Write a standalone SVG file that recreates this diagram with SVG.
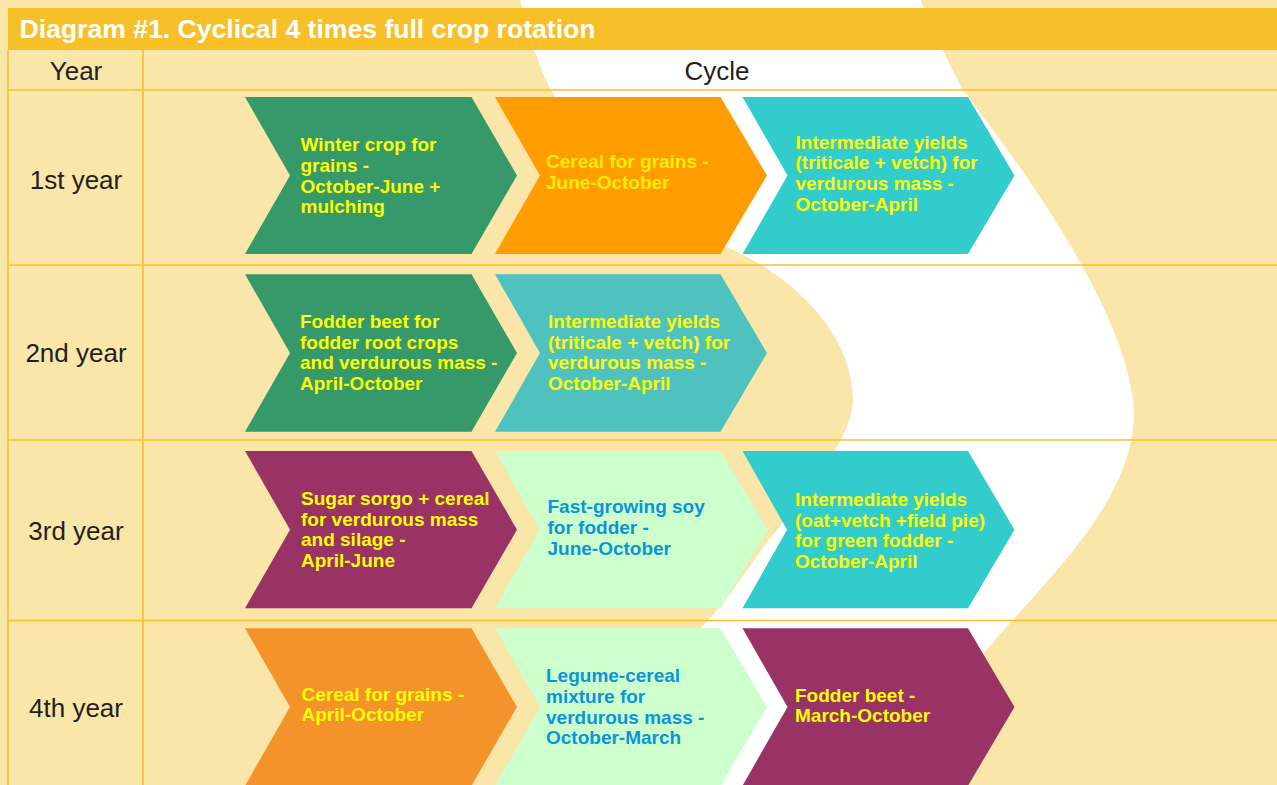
<svg xmlns="http://www.w3.org/2000/svg" width="1277" height="785" viewBox="0 0 1277 785">
<style>
.bg{fill:#F9E6A8}
.wave{fill:#FFFFFF}
.hdr{fill:#F7C029}
.grid{stroke:#F7C029;stroke-width:1.6;fill:none}
.title{font-family:"Liberation Sans",Arial,sans-serif;font-weight:bold;font-size:26px;fill:#FFFFFF}
.lbl{font-family:"Liberation Sans",Arial,sans-serif;font-size:26px;fill:#231F20;text-anchor:middle}
.t{font-family:"Liberation Sans",Arial,sans-serif;font-weight:bold;font-size:19px}
.y{fill:#FFFF00}
.yo{fill:#FFEE00}
.b{fill:#0A95D8}
.green{fill:#35996A}
.orange{fill:#FF9C00}
.orange2{fill:#F5932B}
.cyan{fill:#33CCCC}
.teal{fill:#4FC2BF}
.purple{fill:#993366}
.lgreen{fill:#CCFFCC}
</style>
<rect class="bg" x="0" y="0" width="1277" height="785"/>
<path class="wave" d="M520,-2 C527,30 538,65 551,90 C590,165 660,222 727,247 C790,275 852,330 853,400 C853,440 800,500 765,545 C750,565 725,605 697,632 C670,670 640,730 625,787 L890,787 C925,730 955,690 985,652 C1040,585 1128,510 1134,420 C1136,330 1040,190 963,90 C948,62 930,25 920,-2 Z"/>
<g id="header">
<rect class="hdr" x="8" y="8" width="1269" height="42"/>
<text class="title" x="19.5" y="38" textLength="576" lengthAdjust="spacingAndGlyphs">Diagram #1. Cyclical 4 times full crop rotation</text>
</g>
<g id="grid">
<line class="grid" x1="8" y1="50" x2="8" y2="785"/>
<line class="grid" x1="143" y1="50" x2="143" y2="785"/>
<line class="grid" x1="8" y1="90" x2="1277" y2="90"/>
<line class="grid" x1="8" y1="265" x2="1277" y2="265"/>
<line class="grid" x1="8" y1="440" x2="1277" y2="440"/>
<line class="grid" x1="8" y1="620.5" x2="1277" y2="620.5"/>
</g>
<g id="labels">
<text class="lbl" x="76" y="80">Year</text>
<text class="lbl" x="717" y="80">Cycle</text>
<text id="year1" class="lbl" x="76" y="189">1st year</text>
<text id="year2" class="lbl" x="76" y="362">2nd year</text>
<text id="year3" class="lbl" x="76" y="540">3rd year</text>
<text id="year4" class="lbl" x="76" y="717">4th year</text>
</g>
<g id="connectors"/>
<g id="r1c1">
<polygon class="green" points="245,97 471.5,97 517,175.5 471.5,254 245,254 290,175.5"/>
<text class="t y"><tspan x="300.5" y="151">Winter crop for</tspan><tspan x="300.5" y="172">grains -</tspan><tspan x="300.5" y="192.5">October-June +</tspan><tspan x="300.5" y="213">mulching</tspan></text>
</g>
<g id="r1c2">
<polygon class="orange" points="495,97 720.5,97 767,175.5 720.5,254 495,254 540,175.5"/>
<text class="t yo"><tspan x="546" y="168">Cereal for grains -</tspan><tspan x="546" y="188.5">June-October</tspan></text>
</g>
<g id="r1c3">
<polygon class="cyan" points="742.5,97 968,97 1014.5,175.5 968,254 742.5,254 787.5,175.5"/>
<text class="t y"><tspan x="795.5" y="148.5">Intermediate yields</tspan><tspan x="795.5" y="169.3">(triticale + vetch) for</tspan><tspan x="795.5" y="190">verdurous mass -</tspan><tspan x="795.5" y="210.7">October-April</tspan></text>
</g>
<g id="r2c1">
<polygon class="green" points="245,274.3 471.5,274.3 517,353 471.5,431.7 245,431.7 290,353"/>
<text class="t y"><tspan x="300" y="328">Fodder beet for</tspan><tspan x="300" y="348.7">fodder root crops</tspan><tspan x="300" y="369.3">and verdurous mass -</tspan><tspan x="300" y="390">April-October</tspan></text>
</g>
<g id="r2c2">
<polygon class="teal" points="495,274.3 720.5,274.3 767,353 720.5,431.7 495,431.7 540,353"/>
<text class="t y"><tspan x="548" y="328">Intermediate yields</tspan><tspan x="548" y="348.7">(triticale + vetch) for</tspan><tspan x="548" y="369.3">verdurous mass -</tspan><tspan x="548" y="390">October-April</tspan></text>
</g>
<g id="r3c1">
<polygon class="purple" points="245,451 471.5,451 517,529.7 471.5,608.3 245,608.3 290,529.7"/>
<text class="t y"><tspan x="301" y="505">Sugar sorgo + cereal</tspan><tspan x="301" y="525.7">for verdurous mass</tspan><tspan x="301" y="546.3">and silage -</tspan><tspan x="301" y="567">April-June</tspan></text>
</g>
<g id="r3c2">
<polygon class="lgreen" points="495,451 720.5,451 768,529.7 720.5,608.3 495,608.3 539.5,529.7"/>
<text class="t b"><tspan x="547.5" y="513.3">Fast-growing soy</tspan><tspan x="547.5" y="534">for fodder -</tspan><tspan x="547.5" y="554.5">June-October</tspan></text>
</g>
<g id="r3c3">
<polygon class="cyan" points="742.5,451 968,451 1014.5,529.7 968,608.3 742.5,608.3 787,529.7"/>
<text class="t y"><tspan x="795" y="505.7">Intermediate yields</tspan><tspan x="795" y="526.5">(oat+vetch +field pie)</tspan><tspan x="795" y="547.3">for green fodder -</tspan><tspan x="795" y="568">October-April</tspan></text>
</g>
<g id="r4c1">
<polygon class="orange2" points="245,628.3 471.5,628.3 517,707 471.5,785.7 245,785.7 290,707"/>
<text class="t y"><tspan x="301.5" y="700.5">Cereal for grains -</tspan><tspan x="301.5" y="721.3">April-October</tspan></text>
</g>
<g id="r4c2">
<polygon class="lgreen" points="495,628.3 720.5,628.3 767,707 720.5,785.7 495,785.7 540,707"/>
<text class="t b"><tspan x="546" y="682.3">Legume-cereal</tspan><tspan x="546" y="702.9">mixture for</tspan><tspan x="546" y="723.5">verdurous mass -</tspan><tspan x="546" y="744">October-March</tspan></text>
</g>
<g id="r4c3">
<polygon class="purple" points="742.5,628.3 968,628.3 1014.5,707 968,785.7 742.5,785.7 787.5,707"/>
<text class="t y"><tspan x="795" y="701.7">Fodder beet -</tspan><tspan x="795" y="722">March-October</tspan></text>
</g>
</svg>
